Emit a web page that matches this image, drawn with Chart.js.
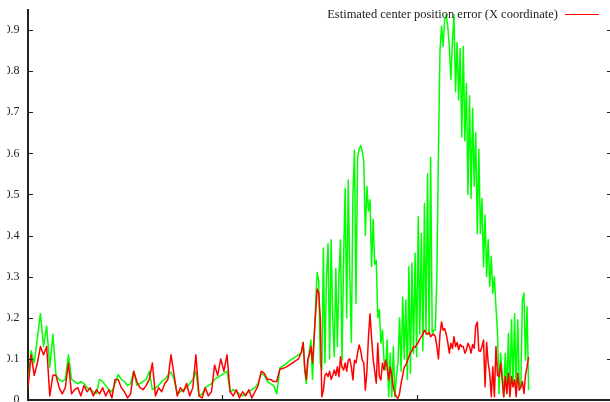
<!DOCTYPE html>
<html>
<head>
<meta charset="utf-8">
<title>Estimated center position error</title>
<script src="https://cdn.jsdelivr.net/npm/chart.js@4.4.0/dist/chart.umd.min.js"></script>
<style>
  html, body { margin: 0; padding: 0; background: #fff; overflow: hidden; }
  #clip { position: absolute; left: 7px; top: 0; width: 603px; height: 402px; overflow: hidden; }
  #wrap { position: absolute; left: -7px; top: 0; width: 640px; height: 430px; }
</style>
</head>
<body>
<div id="clip"><div id="wrap"><canvas id="errChart" width="640" height="430"></canvas></div></div>
<script>
// samples: every 8 frames up to frame 704, then every 4 frames from 708
const COARSE_STEP = 8;
const FINE_START = 708;
const FINE_STEP = 4;

// red series: estimated center position error (X coordinate)
const errXCoarse = [
  0.03, 0.11, 0.06, 0.09, 0.13, 0.11, 0.13, 0.01, 0.06, 0.06,
  0.03, 0.015, 0.03, 0.09, 0.015, 0.025, 0.03, 0.01, 0.035, 0.02,
  0.03, 0.01, 0.025, 0.015, 0.03, 0.01, 0.025, 0.005, 0.05, 0.05,
  0.03, 0.02, 0.005, 0.015, 0.07, 0.045, 0.03, 0.025, 0.035, 0.05,
  0.09, 0.01, 0.03, 0.02, 0.04, 0.05, 0.11, 0.06, 0.01, 0.03,
  0.02, 0.04, 0.01, 0.03, 0.11, 0.01, 0.005, 0.03, 0.01, 0.02,
  0.085, 0.06, 0.1, 0.07, 0.11, 0.02, 0.01, 0.025, 0.005, 0.02,
  0.01, 0.025, 0.005, 0.02, 0.035, 0.07, 0.065, 0.05, 0.05, 0.045,
  0.045, 0.075, 0.077, 0.08, 0.085, 0.09, 0.095, 0.1, 0.12
];
const errXFine = [
  0.14, 0.08, 0.05, 0.1, 0.11, 0.13, 0.09, 0.15, 0.21, 0.27,
  0.26, 0.2, 0.008, 0.024, 0.06, 0.065, 0.057, 0.07, 0.05, 0.06,
  0.073, 0.06, 0.081, 0.057, 0.105, 0.08, 0.073, 0.09, 0.07, 0.097,
  0.1, 0.08, 0.049, 0.097, 0.09, 0.114, 0.134, 0.12, 0.097, 0.09,
  0.024, 0.07, 0.154, 0.21, 0.15, 0.1, 0.07, 0.041, 0.138, 0.057,
  0.049, 0.09, 0.073, 0.097, 0.08, 0.049, 0.08, 0.06, 0.03, 0.015,
  0.008, 0.004, 0.016, 0.041, 0.06, 0.08, 0.085, 0.095, 0.105, 0.115,
  0.12, 0.13, 0.128, 0.135, 0.14, 0.148, 0.154, 0.16, 0.17, 0.163,
  0.16, 0.165, 0.154, 0.158, 0.16, 0.154, 0.13, 0.1, 0.16, 0.19,
  0.17, 0.174, 0.16, 0.14, 0.114, 0.138, 0.125, 0.154, 0.13, 0.14,
  0.122, 0.135, 0.13, 0.13, 0.114, 0.122, 0.138, 0.13, 0.114, 0.135,
  0.126, 0.18, 0.19, 0.12, 0.118, 0.13, 0.146, 0.032, 0.14, 0.09,
  0.065, 0.008, 0.081, 0.008, 0.13, 0.06, 0.057, 0.09, 0.05, 0.008,
  0.057, 0.016, 0.065, 0.008, 0.057, 0.032, 0.049, 0.008, 0.065, 0.024,
  0.032, 0.045, 0.016, 0.06, 0.081, 0.105
];

// green series (untitled in the key)
const errOtherCoarse = [
  0.04, 0.12, 0.09, 0.15, 0.21, 0.13, 0.18, 0.08, 0.16, 0.06,
  0.05, 0.045, 0.05, 0.11, 0.05, 0.045, 0.04, 0.045, 0.04, 0.03,
  0.025, 0.02, 0.015, 0.05, 0.045, 0.035, 0.025, 0.02, 0.04, 0.062,
  0.05, 0.045, 0.035, 0.04, 0.07, 0.036, 0.04, 0.045, 0.05, 0.07,
  0.025, 0.03, 0.035, 0.045, 0.05, 0.06, 0.068, 0.05, 0.015, 0.02,
  0.025, 0.03, 0.04, 0.05, 0.07, 0.01, 0.015, 0.03, 0.035, 0.04,
  0.05, 0.055, 0.06, 0.065, 0.07, 0.02, 0.025, 0.02, 0.015, 0.01,
  0.015, 0.02, 0.025, 0.03, 0.04, 0.065, 0.06, 0.045, 0.04, 0.035,
  0.015, 0.078, 0.083, 0.088, 0.095, 0.1, 0.105, 0.11, 0.115
];
const errOtherFine = [
  0.14, 0.07, 0.04, 0.09, 0.12, 0.146, 0.05, 0.14, 0.235, 0.31,
  0.29, 0.09, 0.073, 0.37, 0.09, 0.3, 0.38, 0.1, 0.39, 0.2,
  0.105, 0.32, 0.13, 0.3, 0.39, 0.097, 0.345, 0.515, 0.2, 0.535,
  0.3, 0.14, 0.5, 0.608, 0.235, 0.59, 0.61, 0.619, 0.605, 0.58,
  0.4, 0.52, 0.46, 0.487, 0.325, 0.44, 0.33, 0.34, 0.2, 0.22,
  0.138, 0.17, 0.097, 0.073, 0.146, 0.008, 0.114, 0.008, 0.13, 0.008,
  0.06, 0.09, 0.2, 0.07, 0.25, 0.1, 0.243, 0.05, 0.324, 0.065,
  0.333, 0.114, 0.357, 0.105, 0.446, 0.16, 0.405, 0.12, 0.478, 0.16,
  0.55, 0.16, 0.59, 0.16, 0.17, 0.17, 0.3, 0.6, 0.85, 0.91,
  0.86, 0.925, 0.937, 0.91, 0.86, 0.78, 0.87, 0.937, 0.75, 0.87,
  0.73, 0.855, 0.64, 0.86, 0.63, 0.77, 0.5, 0.74, 0.49, 0.71,
  0.52, 0.65, 0.405, 0.61, 0.405, 0.49, 0.324, 0.45, 0.3, 0.39,
  0.276, 0.35, 0.26, 0.3, 0.227, 0.162, 0.016, 0.114, 0.065, 0.008,
  0.114, 0.016, 0.162, 0.016, 0.195, 0.032, 0.21, 0.016, 0.195, 0.04,
  0.03, 0.243, 0.26, 0.097, 0.227, 0.024
];

const AXIS_COLOR = '#222';
const TEXT_FONT = { family: '"Liberation Serif", "DejaVu Serif", serif', size: 12 };

function toPoints(coarse, fine) {
    const pts = coarse.map((v, i) => ({ x: i * COARSE_STEP, y: v }));
    fine.forEach((v, j) => pts.push({ x: FINE_START + j * FINE_STEP, y: v }));
    return pts;
}

// gnuplot style ticks: pointing inwards, mirrored on the right side
const inwardTicks = {
    id: 'inwardTicks',
    afterDraw(chart) {
        const { ctx, chartArea: a } = chart;
        const x = chart.scales.x, y = chart.scales.y;
        ctx.save();
        ctx.strokeStyle = AXIS_COLOR;
        ctx.lineWidth = 1.2;
        ctx.beginPath();
        y.ticks.forEach(t => {
            const py = Math.round(y.getPixelForValue(t.value)) + 0.5;
            ctx.moveTo(a.left, py); ctx.lineTo(a.left + 5, py);
            ctx.moveTo(a.right, py); ctx.lineTo(a.right - 4, py);
        });
        x.ticks.forEach(t => {
            const px = Math.round(x.getPixelForValue(t.value)) + 0.5;
            ctx.moveTo(px, a.bottom); ctx.lineTo(px, a.bottom - 5);
        });
        ctx.stroke();
        ctx.restore();
    }
};

// key in the top right corner: text first, line sample after it
const keyBox = {
    id: 'keyBox',
    afterDatasetsDraw(chart) {
        const { ctx, chartArea: a } = chart;
        const ds = chart.data.datasets[0];
        const lineEnd = a.right - 12;
        const lineStart = lineEnd - 34;
        const yMid = Math.round(a.top + 4) + 0.5;
        ctx.save();
        ctx.font = '12.5px ' + TEXT_FONT.family;
        ctx.fillStyle = AXIS_COLOR;
        ctx.textAlign = 'right';
        ctx.textBaseline = 'middle';
        ctx.fillText(ds.label, lineStart - 7, yMid);
        ctx.strokeStyle = ds.borderColor;
        ctx.lineWidth = 1.2;
        ctx.beginPath();
        ctx.moveTo(lineStart, yMid);
        ctx.lineTo(lineEnd, yMid);
        ctx.stroke();
        ctx.restore();
    }
};

const ctx = document.getElementById('errChart').getContext('2d');
new Chart(ctx, {
    type: 'line',
    data: {
        datasets: [{
            label: 'Estimated center position error (X coordinate)',
            data: toPoints(errXCoarse, errXFine),
            borderColor: '#ff0000',
            borderWidth: 1.5,
            borderJoinStyle: 'round',
            pointRadius: 0,
            tension: 0
        }, {
            label: '',
            data: toPoints(errOtherCoarse, errOtherFine),
            borderColor: '#00ff00',
            borderWidth: 1.5,
            borderJoinStyle: 'round',
            pointRadius: 0,
            tension: 0
        }]
    },
    options: {
        responsive: false,
        animation: false,
        devicePixelRatio: 1,
        layout: { padding: { top: 9.5, right: 29, left: 0, bottom: 0 } },
        plugins: {
            legend: { display: false },
            tooltip: { enabled: false }
        },
        scales: {
            x: {
                type: 'linear',
                min: 0,
                max: 1500,
                ticks: { stepSize: 500, font: TEXT_FONT, color: AXIS_COLOR },
                grid: { display: false, drawTicks: false },
                border: { color: AXIS_COLOR, width: 2 },
                afterFit(scale) {
                    scale.height = 30;
                    scale.paddingLeft = 0;
                    scale.paddingRight = 0;
                }
            },
            y: {
                min: 0,
                max: 0.95,
                ticks: {
                    stepSize: 0.1,
                    includeBounds: false,
                    padding: 8.5,
                    font: TEXT_FONT,
                    color: AXIS_COLOR,
                    callback: v => String(+v.toFixed(1))
                },
                grid: { display: false, drawTicks: false },
                border: { color: AXIS_COLOR, width: 2 },
                afterFit(scale) {
                    scale.width = 28;
                    scale.paddingTop = 0;
                    scale.paddingBottom = 0;
                }
            }
        }
    },
    plugins: [inwardTicks, keyBox]
});
</script>
</body>
</html>
